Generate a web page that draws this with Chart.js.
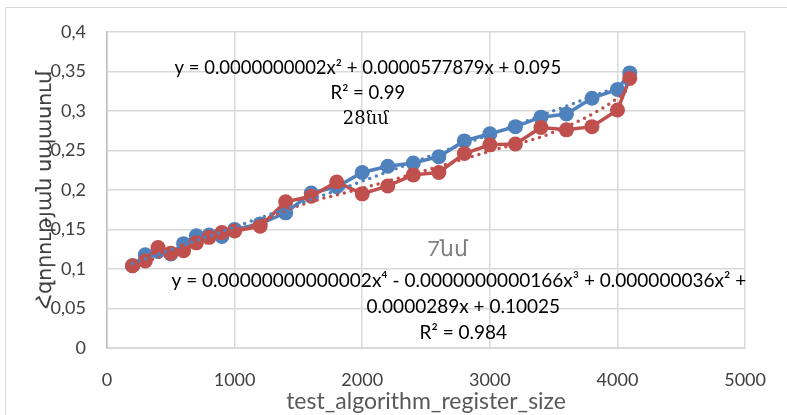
<!DOCTYPE html>
<html>
<head>
<meta charset="utf-8">
<script src="https://cdn.jsdelivr.net/npm/chart.js@4.4.0/dist/chart.umd.min.js"></script>
<style>
  body { margin: 0; background: #fff; }
  #wrap { position: relative; width: 787px; height: 415px; overflow: hidden; }
  #frame { position: absolute; left: 5px; top: 7px; width: 800px; height: 420px; border: 1px solid #d9d9d9; pointer-events: none; }
</style>
</head>
<body>
<div id="wrap">
  <canvas id="out" width="787" height="415"></canvas>
  <div id="frame"></div>
</div>
<script>
// register sizes and measured values
const sizes = [200, 300, 400, 500, 600, 700, 800, 900, 1000, 1200, 1400, 1600, 1800,
  2000, 2200, 2400, 2600, 2800, 3000, 3200, 3400, 3600, 3800, 4000, 4096];
const blue28 = [0.104, 0.118, 0.122, 0.119, 0.132, 0.142, 0.143, 0.141, 0.150, 0.157, 0.171, 0.196, 0.204,
  0.222, 0.230, 0.234, 0.242, 0.262, 0.271, 0.280, 0.292, 0.296, 0.316, 0.327, 0.348];
const red7 = [0.104, 0.110, 0.127, 0.120, 0.123, 0.133, 0.140, 0.146, 0.148, 0.154, 0.185, 0.192, 0.210,
  0.195, 0.205, 0.219, 0.222, 0.246, 0.257, 0.258, 0.279, 0.276, 0.280, 0.301, 0.341];

// trend lines
const trendX = [200, 600, 1000, 1500, 2000, 2500, 3000, 3500, 4000, 4096];
const blueTrend = [0.107, 0.130, 0.153, 0.182, 0.211, 0.241, 0.270, 0.300, 0.330, 0.335];
const redTrend = [0.105, 0.124, 0.146, 0.180, 0.202, 0.225, 0.249, 0.273, 0.316, 0.330];

const yTicks = [0, 0.05, 0.1, 0.15, 0.2, 0.25, 0.3, 0.35, 0.4];
const xTitle = "test_algorithm_register_size";
const yTitle = "Հզորության սպասում";

// text boxes on the plot (data coordinates)
const noteTexts = ["y = 0.0000000002x² + 0.0000577879x + 0.095", "R² = 0.99", "28նմ",
  "7նմ", "y = 0.00000000000002x⁴ - 0.0000000000166x³ + 0.000000036x² +", "0.0000289x + 0.10025", "R² = 0.984"];
const noteX = [2044, 2044, 2028, 2669, 2757, 2792, 2792];
const noteY = [0.354, 0.323, 0.289, 0.125, 0.0854, 0.0516, 0.019];
const noteFonts = ["18.5px Lato", "18.5px Lato", "18px 'DejaVu Serif'", "22px Lato",
  "19px Lato", "19px Lato", "19px Lato"];

function pts(xs, ys) {
  return xs.map((x, i) => ({x: x, y: ys[i]}));
}

const blueColor = "#4f81bd";
const redColor = "#c0504d";

const notesPlugin = {
  id: "notes",
  afterDatasetsDraw(chart) {
    const ctx = chart.ctx;
    const xs = chart.scales.x, ys = chart.scales.y;
    ctx.save();
    ctx.textAlign = "center";
    ctx.textBaseline = "middle";
    for (let i = 0; i < noteTexts.length; i++) {
      ctx.font = noteFonts[i];
      ctx.fillStyle = i == 3 ? "#7f7f7f" : "#000";
      ctx.fillText(noteTexts[i], xs.getPixelForValue(noteX[i]), ys.getPixelForValue(noteY[i]));
    }
    ctx.restore();
  }
};

const canvasCtx = document.getElementById("out").getContext("2d");

new Chart(canvasCtx, {
  type: "scatter",
  data: {
    datasets: [
      {
        label: "blue trend",
        data: pts(trendX, blueTrend),
        showLine: true,
        borderColor: blueColor,
        borderWidth: 3.5,
        borderDash: [0, 7],
        borderCapStyle: "round",
        cubicInterpolationMode: "monotone",
        pointRadius: 0,
        order: 0
      },
      {
        label: "red trend",
        data: pts(trendX, redTrend),
        showLine: true,
        borderColor: redColor,
        borderWidth: 3.5,
        borderDash: [0, 7],
        borderCapStyle: "round",
        cubicInterpolationMode: "monotone",
        pointRadius: 0,
        order: 1
      },
      {
        label: "7nm",
        data: pts(sizes, red7),
        showLine: true,
        borderColor: redColor,
        backgroundColor: redColor,
        borderWidth: 3.5,
        pointRadius: 7.5,
        pointBorderWidth: 0,
        order: 2
      },
      {
        label: "28nm",
        data: pts(sizes, blue28),
        showLine: true,
        borderColor: blueColor,
        backgroundColor: blueColor,
        borderWidth: 3.5,
        pointRadius: 7.5,
        pointBorderWidth: 0,
        order: 3
      }
    ]
  },
  options: {
    responsive: false,
    animation: false,
    layout: { padding: { top: 29, right: 31, left: 0, bottom: 0 } },
    plugins: { legend: { display: false }, tooltip: { enabled: false } },
    scales: {
      x: {
        type: "linear",
        min: 0,
        max: 5000,
        ticks: { stepSize: 1000, padding: 21, color: "#404040", font: { family: "Lato", size: 18 }, callback: v => String(v) },
        grid: { color: "#d9d9d9", lineWidth: 1.5, drawTicks: false },
        border: { color: "#d9d9d9" },
        title: { display: true, text: xTitle, color: "#595959", font: { family: "Lato", size: 23 }, padding: { top: 0, bottom: 0 } },
        afterFit(s) { s.height = 67; }
      },
      y: {
        min: 0,
        max: 0.4,
        afterBuildTicks(s) { s.ticks = yTicks.map(v => ({value: v})); },
        ticks: {
          padding: 21,
          color: "#404040",
          font: { family: "Lato", size: 18 },
          callback: v => String(v).replace(".", ",")
        },
        grid: { color: "#d9d9d9", lineWidth: 1.5, drawTicks: false },
        border: { color: "#bfbfbf", width: 1.5 },
        title: { display: true, text: yTitle, color: "#404040", font: { family: "Lato", size: 21 }, padding: { top: 32, bottom: 0 } },
        afterFit(s) { s.width = 107; }
      }
    }
  },
  plugins: [notesPlugin]
});
</script>
</body>
</html>
